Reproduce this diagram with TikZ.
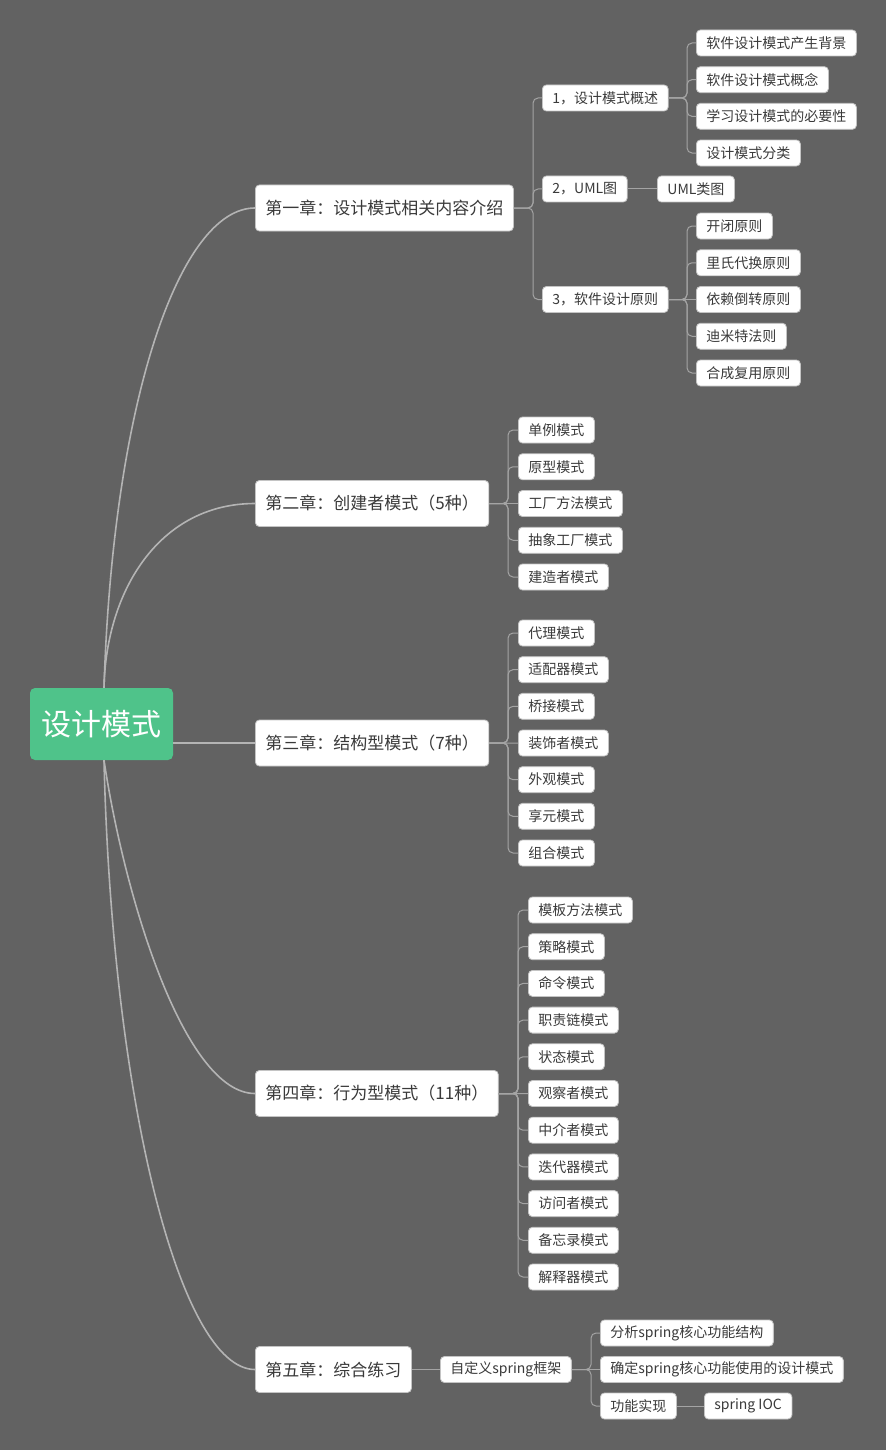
\documentclass[tikz,border=0pt]{standalone}
\usepackage{fontspec}
\setmainfont{Noto Sans CJK SC}
\definecolor{bg}{HTML}{626262}
\definecolor{rootgreen}{HTML}{4FC38A}
\definecolor{boxline}{HTML}{C4C4C4}
\definecolor{txt}{HTML}{3A3A3A}
\definecolor{mainline}{HTML}{B4B4B4}
\definecolor{subline}{HTML}{A4A4A4}
\begin{document}
\begin{tikzpicture}[x=1pt,y=-1pt,
  leaf/.style={draw=boxline, line width=0.8pt, fill=white, rounded corners=4pt, anchor=west,
    minimum height=26pt, inner xsep=10pt, inner ysep=0pt, text=txt, font=\fontsize{14}{16}\selectfont},
  chap/.style={leaf, minimum height=46pt, font=\fontsize{17}{20}\selectfont},
  rootbox/.style={fill=rootgreen, rounded corners=5pt, minimum width=143pt, minimum height=72pt,
    inner sep=0pt, text=white, font=\fontsize{30}{34}\selectfont},
  mainc/.style={draw=mainline, line width=1.6pt},
  subc/.style={draw=subline, line width=1pt, rounded corners=5pt}]
\fill[bg] (0,0) rectangle (886,1450);
\useasboundingbox (0,0) rectangle (886,1450);

% root and chapters
\node[rootbox] (root) at (101.5,724) {设计模式};
\node[chap] (c1) at (255,208) {第一章：设计模式相关内容介绍};
\node[chap] (c2) at (255,503.5) {第二章：创建者模式（5种）};
\node[chap] (c3) at (255,743) {第三章：结构型模式（7种）};
\node[chap] (c4) at (255,1093.5) {第四章：行为型模式（11种）};
\node[chap] (c5) at (255,1369.5) {第五章：综合练习};

\draw[mainc] ([xshift=2.5pt]root.north) .. controls +(9,-288) and +(-75,0) .. (c1.west);
\draw[mainc] ([xshift=2.5pt]root.north) .. controls +(2,-98) and +(-95,0) .. (c2.west);
\draw[mainc] (root.east |- c3.west) -- (c3.west);
\draw[mainc] ([xshift=2.5pt]root.south) .. controls +(21,140) and +(-70,0) .. (c4.west);
\draw[mainc] ([xshift=2.5pt]root.south) .. controls +(8,340) and +(-75,0) .. (c5.west);

% chapter 1
\node[leaf] (a1) at (542,98) {1，设计模式概述};
\node[leaf] (a2) at (542,189) {2，UML图};
\node[leaf] (a3) at (542,299.5) {3，软件设计原则};
\foreach \i in {1,2,3} \draw[subc] (a\i.west) -- ++(-9,0) |- (c1.east);

\foreach \t [count=\i] in {软件设计模式产生背景,软件设计模式概念,学习设计模式的必要性,设计模式分类}
  \node[leaf] (b\i) at (696,{43+(\i-1)*36.667}) {\t};
\foreach \i in {1,...,4} \draw[subc] (b\i.west) -- ++(-9,0) |- (a1.east);

\node[leaf] (uml) at (657,189) {UML类图};
\draw[subc] (a2.east) -- (uml.west);

\foreach \t [count=\i] in {开闭原则,里氏代换原则,依赖倒转原则,迪米特法则,合成复用原则}
  \node[leaf] (d\i) at (696,{226+(\i-1)*36.75}) {\t};
\foreach \i in {1,2,4,5} \draw[subc] (d\i.west) -- ++(-9,0) |- (a3.east);
\draw[subc] (d3.west) -- (a3.east);

% chapter 2
\foreach \t [count=\i] in {单例模式,原型模式,工厂方法模式,抽象工厂模式,建造者模式}
  \node[leaf] (e\i) at (518,{430+(\i-1)*36.75}) {\t};
\foreach \i in {1,2,4,5} \draw[subc] (e\i.west) -- ++(-10,0) |- (c2.east);
\draw[subc] (e3.west) -- (c2.east);

% chapter 3
\foreach \t [count=\i] in {代理模式,适配器模式,桥接模式,装饰者模式,外观模式,享元模式,组合模式}
  \node[leaf] (f\i) at (518,{633+(\i-1)*36.667}) {\t};
\foreach \i in {1,2,3,5,6,7} \draw[subc] (f\i.west) -- ++(-10,0) |- (c3.east);
\draw[subc] (f4.west) -- (c3.east);

% chapter 4
\foreach \t [count=\i] in {模板方法模式,策略模式,命令模式,职责链模式,状态模式,观察者模式,中介者模式,迭代器模式,访问者模式,备忘录模式,解释器模式}
  \node[leaf] (g\i) at (528,{910+(\i-1)*36.7}) {\t};
\foreach \i in {1,2,3,4,5,7,8,9,10,11} \draw[subc] (g\i.west) -- ++(-10,0) |- (c4.east);
\draw[subc] (g6.west) -- (c4.east);

% chapter 5
\node[leaf] (s0) at (440,1369.5) {自定义spring框架};
\draw[subc] (c5.east) -- (s0.west);
\node[leaf] (s1) at (600,1333) {分析spring核心功能结构};
\node[leaf] (s2) at (600,1369.5) {确定spring核心功能使用的设计模式};
\node[leaf] (s3) at (600,1406) {功能实现};
\node[leaf] (ioc) at (704,1406) {spring IOC};
\draw[subc] (s1.west) -- ++(-9,0) |- (s0.east);
\draw[subc] (s3.west) -- ++(-9,0) |- (s0.east);
\draw[subc] (s2.west) -- (s0.east);
\draw[subc] (s3.east) -- (ioc.west);
\end{tikzpicture}
\end{document}
